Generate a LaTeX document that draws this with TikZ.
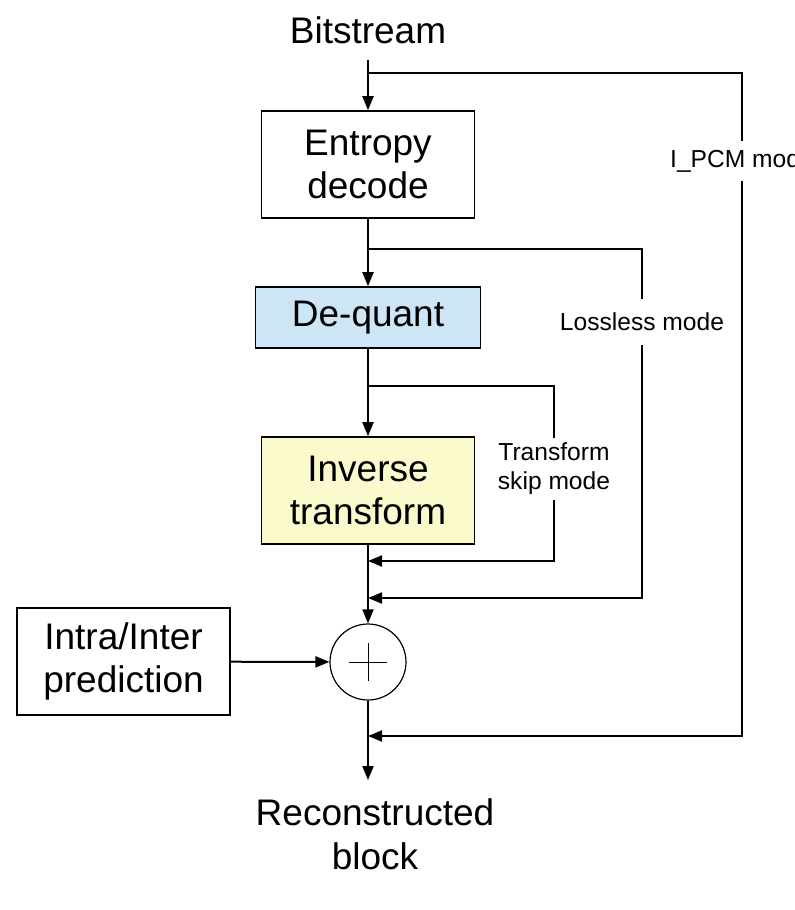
\documentclass[tikz,border=0pt]{standalone}
\usepackage{fontspec}
\setmainfont{Liberation Sans}
\usetikzlibrary{arrows.meta,positioning,calc}
\definecolor{DecBlue}{RGB}{205,230,245}
\definecolor{DecYellow}{RGB}{250,250,205}
\tikzset{
  dec/box/.style={
    draw=black,
    line width=0.8pt,
    fill=white,
    align=center,
    inner sep=0pt,
    font=\fontsize{18.5}{21.5}\selectfont
  },
  dec/text/.style={align=center, inner sep=0pt, font=\fontsize{18.5}{22}\selectfont},
  dec/label/.style={align=center, inner xsep=1pt, font=\fontsize{12.3}{14.5}\selectfont},
  dec/sum/.style={circle, draw=black, line width=0.6pt, minimum size=38pt, inner sep=0pt},
  dec/line/.style={line width=1pt, draw=black},
  dec/arrow/.style={-{Triangle[length=7pt,width=5.5pt]}, line width=1pt, draw=black}
}
\begin{document}
\begin{tikzpicture}[x=0.5pt,y=-0.5pt]
  \useasboundingbox (0,0) rectangle (795,910);
  \clip (0,0) rectangle (795,910);
  % main chain
  \node[dec/text] (bits) at (368,30) {Bitstream};
  \node[dec/box,minimum width=106.5pt,minimum height=53.5pt] (ent) at (368,164.5) {Entropy\\decode};
  \node[dec/box,fill=DecBlue,minimum width=112.5pt,minimum height=30.5pt] (deq) at (368,317.5) {De-quant};
  \node[dec/box,fill=DecYellow,minimum width=106.5pt,minimum height=53.5pt] (inv) at (368,490.5) {Inverse\\transform};
  \node[dec/sum] (sum) at (368,662) {};
  \node[dec/box,minimum width=106.5pt,minimum height=53.5pt] (pred) at (123.5,661.5) {Intra/Inter\\prediction};
  \node[dec/text] (rec) at (375,834) {Reconstructed\\block};
  % bypass labels
  \node[dec/label,inner ysep=4pt] (ipcm) at (742,161) {I\_PCM mode};
  \node[dec/label,inner ysep=7pt] (lossless) at (642,322) {Lossless mode};
  \node[dec/label,inner ysep=2.5pt] (tskip) at (554,469) {Transform\\skip mode};
  % points on the main line
  \coordinate (top) at (368,60);
  \coordinate (b1) at (368,73);
  \coordinate (b2) at (368,249);
  \coordinate (b3) at (368,386);
  \coordinate (r1) at (368,561);
  \coordinate (r2) at (368,598);
  \coordinate (r3) at (368,736);
  \coordinate (out) at (368,780);
  \draw[dec/arrow] (top) -- (ent);
  \draw[dec/arrow] (ent) -- (deq);
  \draw[dec/arrow] (deq) -- (inv);
  \draw[dec/arrow] (inv) -- (sum);
  \draw[dec/arrow] (sum) -- (out);
  \draw[dec/arrow] (pred) -- (sum);
  \draw (sum.center) ++(-19,0) -- ++(38,0);
  \draw (sum.center) ++(0,-19) -- ++(0,38);
  % bypass paths
  \draw[dec/line] (b1) -| (ipcm);
  \draw[dec/arrow] (ipcm) |- (r3);
  \draw[dec/line] (b2) -| (lossless);
  \draw[dec/arrow] (lossless) |- (r2);
  \draw[dec/line] (b3) -| (tskip);
  \draw[dec/arrow] (tskip) |- (r1);
\end{tikzpicture}
\end{document}
